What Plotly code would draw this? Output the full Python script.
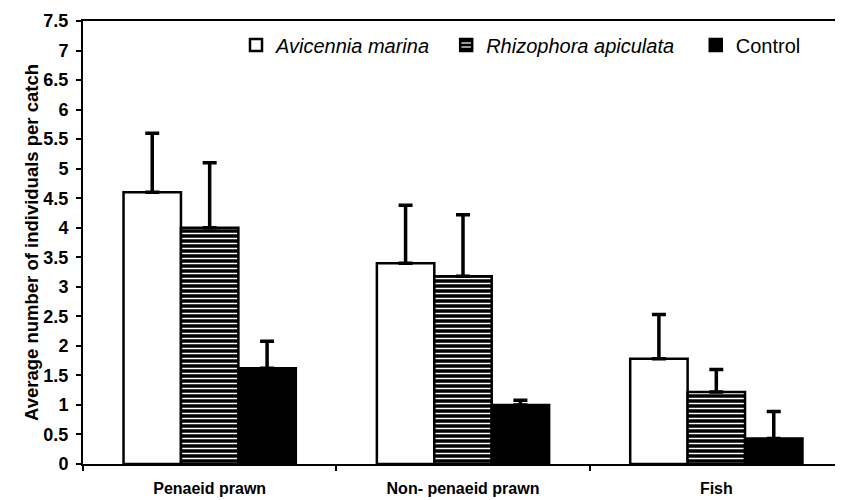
import plotly.graph_objects as go

categories = ["Penaeid prawn", "Non- penaeid prawn", "Fish"]
series_names = ["Avicennia marina", "Rhizophora apiculata", "Control"]
avicennia = [4.6, 3.4, 1.78]
avicennia_err = [1.0, 0.98, 0.75]
rhizophora = [4.0, 3.18, 1.22]
rhizophora_err = [1.1, 1.04, 0.38]
control = [1.62, 1.0, 0.43]
control_err = [0.46, 0.08, 0.46]
y_ticks = [0, 0.5, 1, 1.5, 2, 2.5, 3, 3.5, 4, 4.5, 5, 5.5, 6, 6.5, 7, 7.5]

FONT = "Liberation Sans, Arial, sans-serif"

def err(vals):
    return dict(type="data", array=vals, arrayminus=[0] * len(vals), symmetric=False,
                color="black", thickness=3.5, width=7)

fig = go.Figure()
fig.add_trace(go.Bar(
    x=categories, y=avicennia, name="<i>" + series_names[0] + "</i>" + "&nbsp;" * 2,
    marker=dict(color="white", line=dict(color="black", width=2.5)),
    error_y=err(avicennia_err)))
fig.add_trace(go.Bar(
    x=categories, y=rhizophora, name="<i>" + series_names[1] + "</i>" + "&nbsp;" * 3,
    marker=dict(color="black", line=dict(color="black", width=2.5),
                pattern=dict(shape="-", fgcolor="white", bgcolor="black", size=5,
                             solidity=0.3, fillmode="replace")),
    error_y=err(rhizophora_err)))
fig.add_trace(go.Bar(
    x=categories, y=control, name=series_names[2],
    marker=dict(color="black", line=dict(color="black", width=2.5)),
    error_y=err(control_err)))

# page body has an 8px default margin, so the figure is sized to fit
fig.update_layout(
    width=835, height=492,
    margin=dict(l=75, r=0, t=13, b=36, autoexpand=False),
    paper_bgcolor="white", plot_bgcolor="white",
    barmode="group", bargap=0.32, bargroupgap=0,
    font=dict(family=FONT, color="black"),
    showlegend=True,
    legend=dict(orientation="h", x=(236 - 83) / 760, xanchor="left",
                y=1 - (45 - 21) / 443, yanchor="middle",
                font=dict(size=20, family=FONT), bgcolor="rgba(0,0,0,0)",
                traceorder="normal"),
    xaxis=dict(showline=True, linecolor="black", linewidth=2, mirror=True,
               ticks="outside", ticklen=5, tickwidth=2, tickcolor="black",
               tickson="boundaries", showgrid=False, automargin=False,
               tickfont=dict(size=16, family=FONT, weight="bold"),
               ticklabelstandoff=9),
    yaxis=dict(range=[0, 7.5], tickvals=y_ticks, showline=True, linecolor="black",
               linewidth=2, ticks="outside", ticklen=5, tickwidth=2, tickcolor="black",
               showgrid=False, zeroline=False, automargin=False,
               tickfont=dict(size=18, family=FONT, weight="bold"),
               ticklabelstandoff=4,
               title=dict(text="Average number of individuals per catch",
                          font=dict(size=18.5, family=FONT, weight="bold"), standoff=0)),
)

fig.write_html("out.html")
